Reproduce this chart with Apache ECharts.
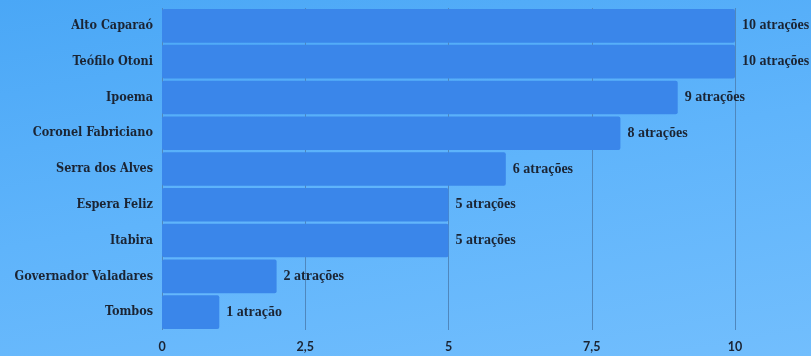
<!DOCTYPE html>
<html><head><meta charset="utf-8">
<script src="https://cdn.jsdelivr.net/npm/echarts@6/dist/echarts.min.js"></script>
<style>
html,body{margin:0;padding:0;}
#c{width:811px;height:356px;background:linear-gradient(170deg,#4aa7f6 0%,#5fb4fb 50%,#72befd 100%);}
</style></head>
<body><div id="c"></div>
<script>
const categories = ["Alto Caparaó","Teófilo Otoni","Ipoema","Coronel Fabriciano","Serra dos Alves","Espera Feliz","Itabira","Governador Valadares","Tombos"];
const values = [10,10,9,8,6,5,5,2,1];
const valueLabels = ["10 atrações","10 atrações","9 atrações","8 atrações","6 atrações","5 atrações","5 atrações","2 atrações","1 atração"];
const xTicks = {0:"0",2.5:"2,5",5:"5",7.5:"7,5",10:"10"};

const chart = echarts.init(document.getElementById('c'), null, {renderer:'canvas'});
chart.setOption({
  backgroundColor:'transparent',
  animation:false,
  grid:{left:162,right:76,top:8,bottom:26,containLabel:false},
  xAxis:{type:'value',min:0,max:10,interval:2.5,
    axisLine:{show:false},axisTick:{show:false},
    splitLine:{show:true,lineStyle:{color:'#4f87bd',width:1}},
    axisLabel:{formatter:v=>xTicks[v]!==undefined?xTicks[v]:'',color:'#1b2433',fontFamily:'Lato',fontWeight:'bold',fontSize:12.5,margin:10,
      showMinLabel:true,showMaxLabel:true}},
  yAxis:{type:'category',data:categories,inverse:true,
    axisLine:{show:false},axisTick:{show:false},splitLine:{show:false},
    axisLabel:{color:'#1b2433',fontFamily:"'DejaVu Serif Condensed', 'DejaVu Serif', serif",fontWeight:'bold',fontSize:12.5,margin:9}},
  series:[{type:'bar',data:values,barCategoryGap:'6%',
    itemStyle:{color:'#3a86ea',borderRadius:2},
    label:{show:true,position:'right',distance:7,color:'#1b2433',fontFamily:"'Liberation Serif', serif",fontWeight:'bold',fontSize:14,
      formatter:p=>valueLabels[p.dataIndex]}}]
});
</script></body></html>
